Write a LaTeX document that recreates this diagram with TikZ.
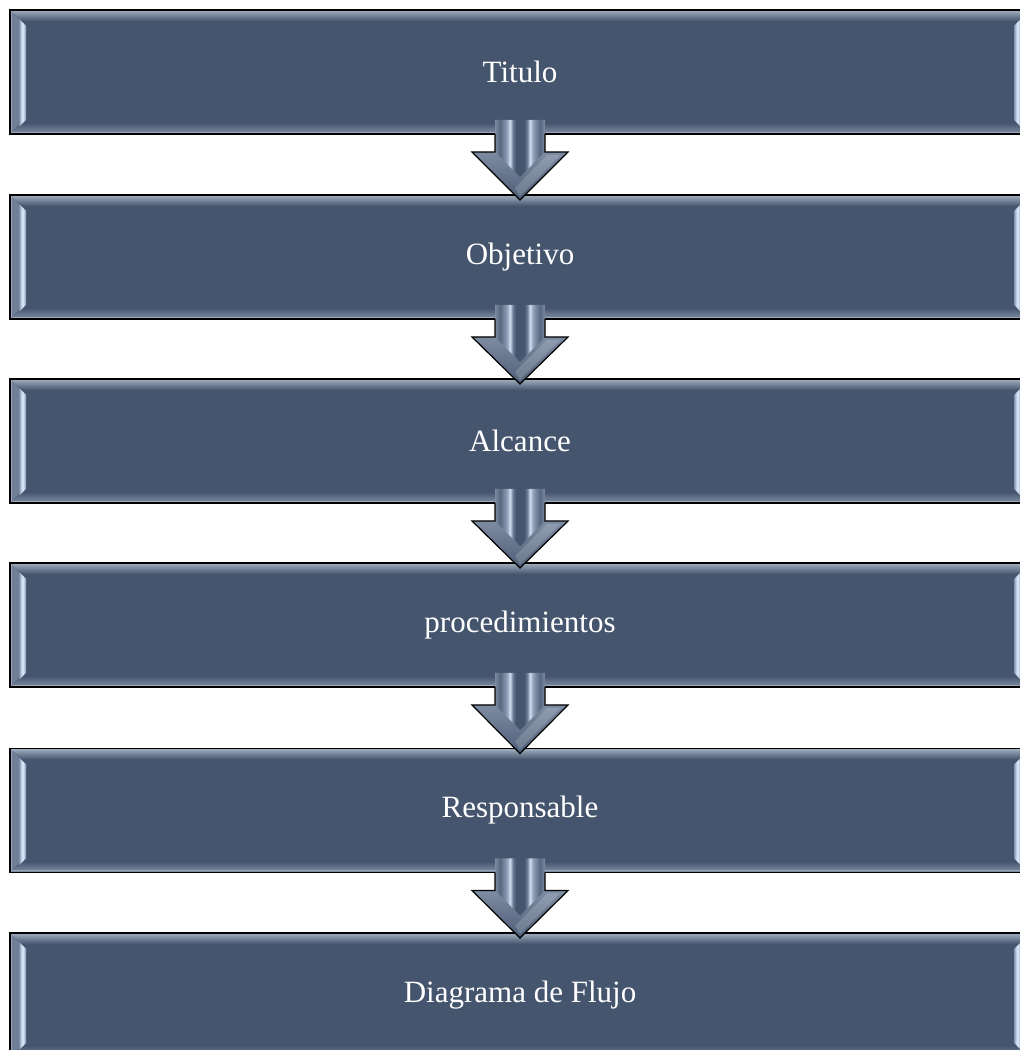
\documentclass[tikz,border=0pt]{standalone}
\usepackage{fontspec}
\setmainfont{Liberation Serif}
\usetikzlibrary{calc}

% palette
\definecolor{slate}{HTML}{46556E}
\definecolor{bevelside}{HTML}{6F7F97}
\definecolor{beveltop}{HTML}{A2B0C2}
\definecolor{bevelbot}{HTML}{8391A7}
\definecolor{rimline}{HTML}{9AA6B8}
\definecolor{hlA}{HTML}{7F8FA9}
\definecolor{hlB}{HTML}{D4E2F6}
\definecolor{hlC}{HTML}{8595AF}
\definecolor{shEdge}{HTML}{7D8CA2}
\definecolor{shDark}{HTML}{56667F}
\definecolor{shMid}{HTML}{8FA0B8}
\definecolor{shLight}{HTML}{D0DDF0}
\definecolor{shInner}{HTML}{66768F}
\definecolor{headtop}{HTML}{7D8CA2}
\definecolor{headbot}{HTML}{4E5E77}

% light strip on the side bevels of a box
\pgfdeclarehorizontalshading{sidelight}{100bp}{%
  color(0bp)=(hlA); color(25bp)=(hlA); color(45bp)=(hlB);
  color(55bp)=(hlB); color(75bp)=(hlC); color(100bp)=(hlC)}

% two highlight stripes along the shaft of a block arrow
\pgfdeclarehorizontalshading{shaftstripes}{100bp}{%
  color(0bp)=(shEdge); color(25bp)=(shEdge); color(30bp)=(shDark);
  color(37bp)=(shMid); color(40bp)=(shLight); color(43bp)=(shInner);
  color(46bp)=(slate); color(54bp)=(slate); color(57bp)=(shInner);
  color(60bp)=(shLight); color(63bp)=(shMid); color(70bp)=(shDark);
  color(75bp)=(shEdge); color(100bp)=(shEdge)}

% bevel and outline of a box (boxes are 1020 x 124)
\newcommand\boxbevel[1]{%
  \begin{scope}[shift={(#1.north west)}]
    \fill[bevelside] (0,0) -- (16,-16) -- (16,-108) -- (0,-124) -- cycle;
    \fill[bevelside] (1020,0) -- (1004,-16) -- (1004,-108) -- (1020,-124) -- cycle;
    \shade[top color=beveltop, bottom color=slate]
      (0,0) -- (1020,0) -- (1008,-11) -- (12,-11) -- cycle;
    \shade[top color=slate, bottom color=bevelbot]
      (0,-124) -- (1020,-124) -- (1008,-113) -- (12,-113) -- cycle;
    \shade[shading=sidelight] (9,-9) -- (16,-16) -- (16,-110) -- (9,-117) -- cycle;
    \shade[shading=sidelight, shading angle=180]
      (1011,-9) -- (1004,-16) -- (1004,-110) -- (1011,-117) -- cycle;
    \draw[rimline, line width=1.2pt] (1.8,-1.8) rectangle (1018.2,-122.2);
  \end{scope}
  \draw[black, line width=1.4pt] (#1.north west) rectangle (#1.south east);
  \node[boxtext] at (#1.center) {\csname label#1\endcsname};}

\tikzset{
  flowbox/.style={rectangle, fill=slate, minimum width=1020pt,
    minimum height=124pt, inner sep=0pt, outer sep=0pt},
  boxtext/.style={text=white, font=\fontsize{31pt}{37pt}\selectfont, inner sep=0pt},
  arrowline/.style={draw=black, line width=1.2pt, line join=miter}
}

% block arrow from the bottom of one box to the top of the next
\newcommand\blockarrow[2]{%
  \coordinate (sh) at ($(#1.south)+(0,-18)$);
  \coordinate (tp) at ($(#2.north)+(0,-5)$);
  \shade[top color=headtop, bottom color=headbot]
    ($(sh)+(-48,0)$) -- ($(sh)+(48,0)$) -- (tp) -- cycle;
  \fill[white, opacity=0.16]
    ($(sh)+(27,-3)$) -- ($(sh)+(40,-3)$) -- ($(tp)+(0,4)$) -- ($(tp)+(-5,12)$) -- cycle;
  \shade[shading=shaftstripes]
    ($(#1.south)+(-25,14)$) -- ($(#1.south)+(25,14)$) -- ($(sh)+(25,0)$)
    -- ($(sh)+(0,-25)$) -- ($(sh)+(-25,0)$) -- cycle;
  \path[arrowline] ($(#1.south)+(-25,0)$) -- ($(sh)+(-25,0)$) -- ($(sh)+(-48,0)$)
    -- (tp) -- ($(sh)+(48,0)$) -- ($(sh)+(25,0)$) -- ($(#1.south)+(25,0)$);
}

\def\labelbA{Titulo}
\def\labelbB{Objetivo}
\def\labelbC{Alcance}
\def\labelbD{procedimientos}
\def\labelbE{Responsable}
\def\labelbF{Diagrama de Flujo}

\begin{document}
\begin{tikzpicture}[x=1pt, y=1pt]
  \useasboundingbox (0,0) rectangle (1020,1050);
  \fill[white] (0,0) rectangle (1020,1050);

  \node[flowbox] (bA) at (520,978)   {};
  \node[flowbox] (bB) at (520,793)   {};
  \node[flowbox] (bC) at (520,609)   {};
  \node[flowbox] (bD) at (520,425)   {};
  \node[flowbox] (bE) at (520,239.5) {};
  \node[flowbox] (bF) at (520,55)    {};

  \foreach \b in {bA,bB,bC,bD,bE,bF} {\boxbevel{\b}}

  \blockarrow{bA}{bB}
  \blockarrow{bB}{bC}
  \blockarrow{bC}{bD}
  \blockarrow{bD}{bE}
  \blockarrow{bE}{bF}
\end{tikzpicture}
\end{document}
